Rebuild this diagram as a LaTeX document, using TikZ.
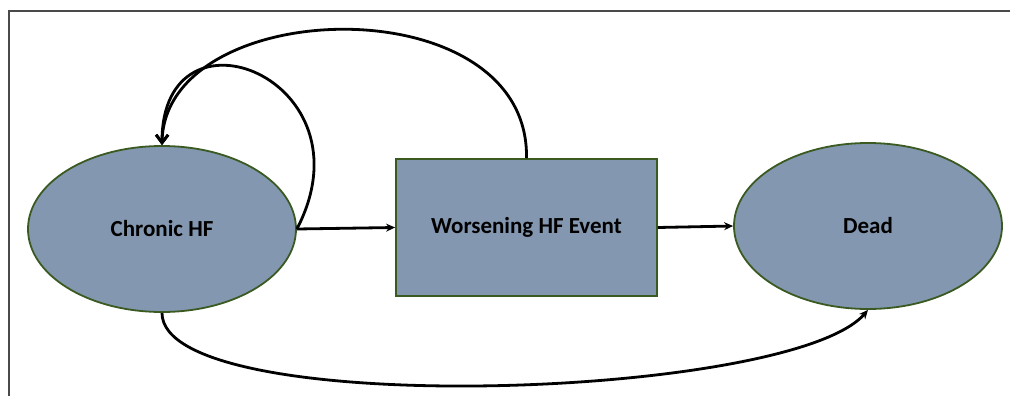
\documentclass[tikz,border=0pt]{standalone}
\usepackage{fontspec}
\setmainfont{Carlito}
\usetikzlibrary{arrows.meta}
\usetikzlibrary{shapes.geometric}
\definecolor{StateFill}{HTML}{8497B0}
\definecolor{StateLine}{HTML}{3A5A22}
\definecolor{FrameGray}{HTML}{4A4A4A}
\begin{document}
\begin{tikzpicture}[x=1pt,y=-1pt,
    state/.style={ellipse,fill=StateFill,draw=StateLine,line width=1.8pt,
      minimum width=268pt,minimum height=166pt,inner sep=0pt,
      font=\fontsize{23}{27}\selectfont\bfseries},
    eventbox/.style={rectangle,fill=StateFill,draw=StateLine,line width=1.8pt,
      minimum width=261pt,minimum height=137pt,inner sep=0pt,
      font=\fontsize{23}{27}\selectfont\bfseries},
    trans/.style={line width=2.8pt,-{Stealth[length=9pt,width=8pt]}},
    back/.style={line width=2.8pt,-{Straight Barb[length=8pt,width=12pt,line width=2.8pt]}}]

  \useasboundingbox (0,0) rectangle (1010,396);

  % frame, cut on the right and at the bottom
  \draw [FrameGray, line width=1.6pt] (9,396) -- (9,11) -- (1010,11);

  % the three states
  \node[state] (Chronic) at (162,229) {Chronic HF};
  \node[eventbox] (Event) at (526.5,227.5) {Worsening HF Event};
  \node[state] (Dead) at (868,226) {Dead};

  % forward transitions
  \draw [trans] (Chronic.east) -- (Event.west);
  \draw [trans] (Event.east) -- (Dead.west);
  \draw [trans] (Chronic.south) .. controls (162,420) and (790,400) .. (Dead.south);

  % back to chronic HF
  \draw [back] (Chronic.east) .. controls +(78,-150) and +(0,-150) .. (Chronic.north);
  \draw [back] (Event.north) .. controls +(3,-174) and +(3,-151) .. (Chronic.north);

\end{tikzpicture}
\end{document}
